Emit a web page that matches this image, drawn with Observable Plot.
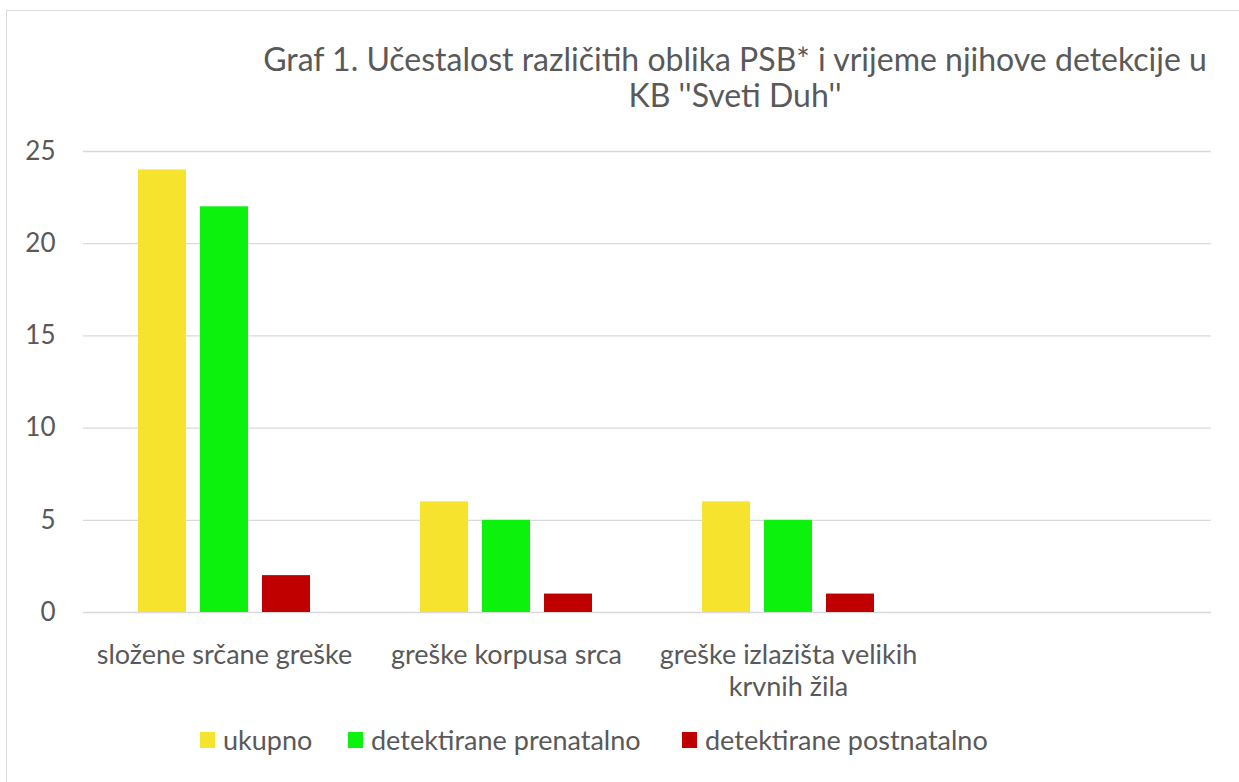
<!DOCTYPE html>
<html><head><meta charset="utf-8">
<script src="https://cdn.jsdelivr.net/npm/d3@7"></script>
<script src="https://cdn.jsdelivr.net/npm/@observablehq/plot@0.6"></script>
<style>
body{margin:0;background:#fff;overflow:hidden;font-family:Lato,sans-serif;color:#595959}
#wrap{position:relative;width:1239px;height:782px;overflow:hidden;background:#fff}
#frame{position:absolute;left:6px;top:10px;width:1300px;height:900px;border:1px solid #d9d9d9}
#chart{position:absolute;left:0;top:0}
#title{position:absolute;top:41px;left:735px;transform:translateX(-50%);font-size:32px;line-height:36px;text-align:center;white-space:nowrap}
#legend{position:absolute;top:724px;left:0;width:1239px;height:32px;font-size:27px;line-height:32px;white-space:nowrap}
.item{position:absolute;top:0;display:flex;align-items:center}
.sw{width:15px;height:16px;margin-right:8px}
</style></head>
<body>
<div id="wrap">
  <div id="frame"></div>
  <div id="chart"></div>
  <div id="title"></div>
  <div id="legend"></div>
</div>
<script>
const titleLines = ["Graf 1. Učestalost različitih oblika PSB* i vrijeme njihove detekcije u", "KB ''Sveti Duh''"];
const categories = ["složene srčane greške", "greške korpusa srca", "greške izlazišta velikih krvnih žila", ""];
const categoryLabels = ["složene srčane greške", "greške korpusa srca", "greške izlazišta velikih\nkrvnih žila", ""];
const series = ["ukupno", "detektirane prenatalno", "detektirane postnatalno"];
const ukupno = [24, 6, 6, null];
const prenatalno = [22, 5, 5, null];
const postnatalno = [2, 1, 1, null];
const colors = ["#F5E32E", "#0DF20D", "#C00000"];
const yTicks = [0, 5, 10, 15, 20, 25];

const data = [];
[ukupno, prenatalno, postnatalno].forEach((vals, s) =>
  vals.forEach((v, i) => data.push({category: categories[i], series: series[s], value: v})));

const chart = Plot.plot({
  width: 1239, height: 782,
  marginTop: 151, marginBottom: 170, marginLeft: 81, marginRight: 27,
  style: {fontFamily: "Lato, sans-serif", fontSize: "26px", color: "#595959", background: "transparent"},
  fx: {domain: categories, padding: 0},
  x: {domain: series, paddingInner: 0.232, paddingOuter: 0.878, axis: null},
  y: {domain: [0, 25]},
  color: {domain: series, range: colors},
  marks: [
    Plot.gridY(yTicks, {stroke: "#d9d9d9", strokeOpacity: 1, strokeWidth: 1.3}),
    Plot.axisY(yTicks, {tickSize: 0, tickPadding: 28, label: null, fontSize: 26, fill: "#595959"}),
    Plot.axisFx({anchor: "bottom", tickSize: 0, tickPadding: 29, lineHeight: 1.17, label: null, fontSize: 27, fill: "#595959",
      tickFormat: d => categoryLabels[categories.indexOf(d)]}),
    Plot.barY(data, {fx: "category", x: "series", y: "value", fill: "series"})
  ]
});
document.getElementById("chart").appendChild(chart);

document.getElementById("title").innerHTML = titleLines.join("<br>");
const legend = document.getElementById("legend");
const legendLefts = [200, 348, 682];
series.forEach((s, i) => {
  const item = document.createElement("div");
  item.className = "item";
  item.style.left = legendLefts[i] + "px";
  const sw = document.createElement("div");
  sw.className = "sw";
  sw.style.background = colors[i];
  const t = document.createElement("span");
  t.textContent = s;
  item.appendChild(sw); item.appendChild(t);
  legend.appendChild(item);
});
</script>
</body></html>
